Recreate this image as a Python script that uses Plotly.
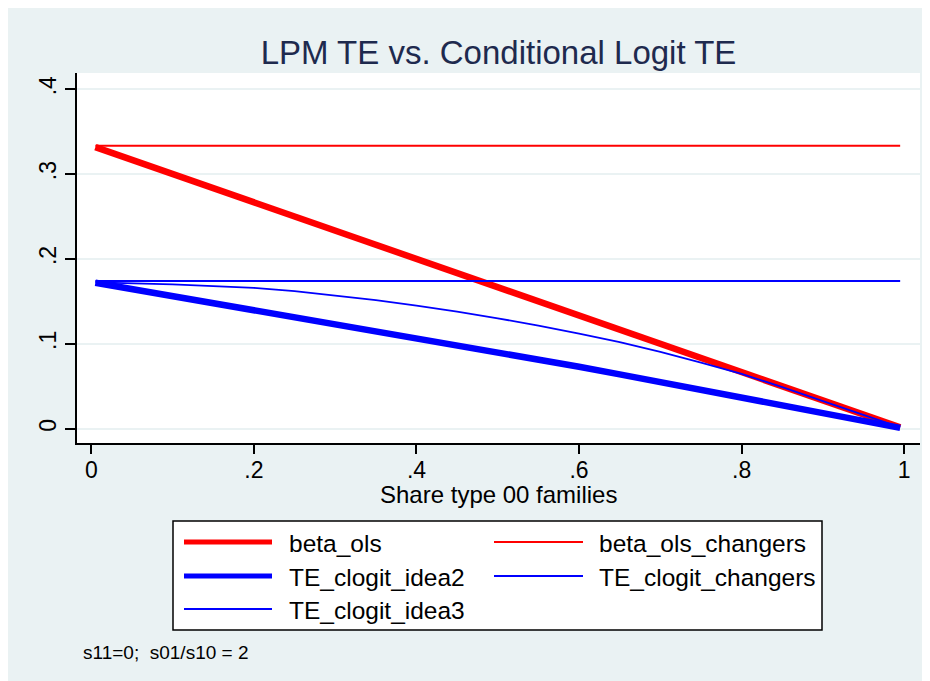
import plotly.graph_objects as go

# ---------------- data ----------------
share_00 = [0.005, 0.05, 0.10, 0.15, 0.20, 0.25, 0.30, 0.35, 0.40, 0.45, 0.50,
            0.55, 0.60, 0.65, 0.70, 0.75, 0.80, 0.85, 0.90, 0.95, 0.995]

beta_ols = [0.3317, 0.3167, 0.3000, 0.2833, 0.2667, 0.2500, 0.2333, 0.2167, 0.2000,
            0.1833, 0.1667, 0.1500, 0.1333, 0.1167, 0.1000, 0.0833, 0.0667, 0.0500,
            0.0333, 0.0167, 0.0017]

beta_ols_changers = [0.3333] * 21

TE_clogit_idea2 = [0.1720, 0.1645, 0.1570, 0.1490, 0.1410, 0.1325, 0.1240, 0.1155,
                   0.1070, 0.0985, 0.0900, 0.0815, 0.0730, 0.0640, 0.0550, 0.0460,
                   0.0370, 0.0280, 0.0190, 0.0095, 0.0010]

TE_clogit_changers = [0.1740] * 21

TE_clogit_idea3 = [0.1724, 0.1715, 0.1700, 0.1680, 0.1660, 0.1620, 0.1570, 0.1515,
                   0.1450, 0.1380, 0.1300, 0.1215, 0.1120, 0.1020, 0.0905, 0.0780,
                   0.0645, 0.0490, 0.0325, 0.0165, 0.0017]

series_names = ["beta_ols", "beta_ols_changers", "TE_clogit_idea2",
                "TE_clogit_changers", "TE_clogit_idea3"]
series_values = [beta_ols, beta_ols_changers, TE_clogit_idea2,
                 TE_clogit_changers, TE_clogit_idea3]
series_colors = ["#FF0000", "#FF0000", "#0000FF", "#0000FF", "#0000FF"]
series_widths = [6.5, 2, 6.5, 2, 1.8]

x_tickvals = [0, 0.2, 0.4, 0.6, 0.8, 1.0]
x_ticktext = ["0", ".2", ".4", ".6", ".8", "1"]
y_tickvals = [0, 0.1, 0.2, 0.3, 0.4]
y_ticktext = ["0", ".1", ".2", ".3", ".4"]

title_text = "LPM TE vs. Conditional Logit TE"
x_title = "Share type 00 families"
note_text = "s11=0;\u00a0 s01/s10 = 2"

# ---------------- layout geometry ----------------
OFF = 8  # page body margin
W, H = 930, 681
PW, PH = 843, 370
ML, MT = 77 - OFF, 73 - OFF
MR, MB = W - ML - PW, H - MT - PH
BG = "#EAF2F3"
FONT = "Liberation Sans, Arial, sans-serif"


def px_x(px):
    return (px - OFF - ML) / PW


def px_y(py):
    return (MT + PH - (py - OFF)) / PH


fig = go.Figure()
for name, vals, col, wd in zip(series_names, series_values, series_colors, series_widths):
    fig.add_trace(go.Scatter(x=share_00, y=vals, mode="lines", name=name,
                             line=dict(color=col, width=wd), showlegend=False))

shapes = []
# legend box
shapes.append(dict(type="rect", xref="paper", yref="paper",
                   x0=px_x(173), x1=px_x(822), y0=px_y(630), y1=px_y(521),
                   fillcolor="white", line=dict(color="black", width=1.5)))

annotations = []
leg_pos = [(184, 272, 287, 542), (494, 583, 597, 542),
           (184, 272, 287, 576), (494, 583, 597, 576),
           (184, 272, 287, 609)]
leg_widths = [5, 2, 5, 2, 2]
for (lx0, lx1, tx, ly), name, col, wd in zip(leg_pos, series_names, series_colors, leg_widths):
    shapes.append(dict(type="line", xref="paper", yref="paper",
                       x0=px_x(lx0), x1=px_x(lx1), y0=px_y(ly), y1=px_y(ly),
                       line=dict(color=col, width=wd)))
    annotations.append(dict(xref="paper", yref="paper", x=px_x(tx), y=px_y(ly + 1),
                            text=name, showarrow=False, xanchor="left", yanchor="middle",
                            font=dict(family=FONT, size=24.5, color="black")))

annotations.append(dict(xref="paper", yref="paper", x=px_x(81), y=px_y(652),
                        text=note_text, showarrow=False, xanchor="left", yanchor="middle",
                        font=dict(family=FONT, size=19, color="black")))

# x-axis title
annotations.append(dict(xref="paper", yref="paper", x=px_x(498.5), y=px_y(494),
                        text=x_title, showarrow=False, xanchor="center", yanchor="middle",
                        font=dict(family=FONT, size=24, color="black")))

fig.update_layout(
    width=W, height=H,
    margin=dict(l=ML, r=MR, t=MT, b=MB, pad=0),
    paper_bgcolor=BG, plot_bgcolor="white",
    showlegend=False,
    title=dict(text=title_text, x=0.5, xref="paper", y=1 - (52 - OFF) / H, yref="container",
               xanchor="center", yanchor="middle",
               font=dict(family=FONT, size=33, color="#1E2A4E")),
    font=dict(family=FONT, color="black"),
    shapes=shapes, annotations=annotations,
    xaxis=dict(range=[-0.0176, 1.0194], tickvals=x_tickvals, ticktext=x_ticktext,
               showgrid=False, zeroline=False, showline=True, linecolor="black",
               linewidth=2, ticks="outside", ticklen=9, tickwidth=2, tickcolor="black",
               ticklabelstandoff=-4,
               tickfont=dict(family=FONT, size=23, color="black")),
    yaxis=dict(range=[-0.0168, 0.419], tickvals=y_tickvals, ticktext=y_ticktext,
               tickangle=-90, showgrid=True, gridcolor=BG, gridwidth=2,
               zeroline=False, showline=True, linecolor="black", linewidth=2,
               ticks="outside", ticklen=10, tickwidth=2, tickcolor="black",
               tickfont=dict(family=FONT, size=23, color="black")),
)

fig.write_html("out.html", config={"displayModeBar": False})
